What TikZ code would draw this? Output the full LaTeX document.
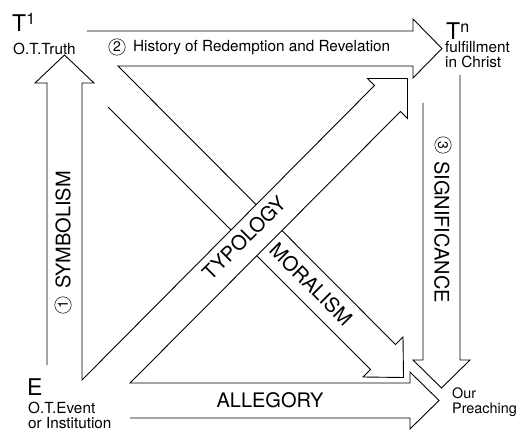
\documentclass[tikz,border=0pt]{standalone}
\usepackage{fontspec}
\setmainfont{TeX Gyre Heros}

\newcommand{\supnum}[1]{\raisebox{7pt}{\fontsize{16}{16}\selectfont #1}}

\tikzset{
  outline/.style={line width=0.9pt, line join=miter},
  lbl/.style={inner sep=0pt, font=\fontsize{15.3}{15}\selectfont},
  endlbl/.style={inner sep=0pt, font=\fontsize{14.4}{15}\selectfont},
  biglbl/.style={inner sep=0pt, font=\fontsize{20}{20}\selectfont},
  corner/.style={inner sep=0pt, font=\fontsize{23}{23}\selectfont},
  circnum/.style={circle, draw, line width=0.5pt, inner sep=0pt, minimum size=16.5pt, font=\fontsize{14}{14}\selectfont},
}

\begin{document}
\begin{tikzpicture}[x=1pt,y=-1pt]
  \useasboundingbox (0,0) rectangle (519,430);
  % history and moralism
  \draw [outline] (87,31) -- (413,31) -- (413,19) -- (442,48.5) -- (413,78) -- (413,66) -- (118,66)
     -- (395.5,344.5) -- (403,337) -- (403.5,377.5) -- (363,377) -- (370.5,369.5) -- (108,107);
  % typology lies over moralism
  \path [fill=white] (82,380) -- (374.5,85.5) -- (367.5,78.5) -- (407.5,78.5) -- (407.5,118.5)
     -- (400.5,111.5) -- (130,383) -- cycle;
  % symbolism, typology, allegory
  \draw [outline] (47,365) -- (47,83) -- (35,83) -- (64.5,55) -- (94,83) -- (82,83) -- (82,380)
     -- (374.5,85.5) -- (367.5,78.5) -- (407.5,78.5) -- (407.5,118.5) -- (400.5,111.5) -- (130,383)
     -- (410,383) -- (410,372) -- (439,400.5) -- (410,429) -- (410,418) -- (130,418);
  % significance
  \draw [outline] (423,103) -- (423,360) -- (413,360) -- (441.5,388) -- (470,360) -- (460,360) -- (460,75);

  \node [corner, anchor=base west] (t1) at (12,32) {T\supnum{1}};
  \node [lbl, anchor=base west] (ottruth) at (13,55) {O.T.Truth};
  \node [corner, anchor=base west] (tn) at (446,40) {T\supnum{n}};
  \node [lbl, anchor=base west] (fulfil) at (445,53) {fulfillment};
  \node [lbl, anchor=base west] (christ) at (445,68) {in Christ};
  \node [corner, anchor=base west] (e) at (27,395) {E};
  \node [lbl, anchor=base west] (otevent) at (28,413) {O.T.Event};
  \node [lbl, anchor=base west] (instit) at (28,428) {or Institution};
  \node [endlbl, anchor=base west] (our) at (452,398) {Our};
  \node [endlbl, anchor=base west] (preach) at (452,413) {Preaching};

  \node [circnum] (two) at (117,47) {2};
  \node [lbl, anchor=base west] (history) at (133,52) {History of Redemption and Revelation};
  \node [circnum, rotate=90] (one) at (63,305) {1};
  \node [biglbl, rotate=90] (symbol) at (63,230) {SYMBOLISM};
  \node [circnum, rotate=-90] (three) at (443,145) {3};
  \node [biglbl, rotate=-90] (signif) at (442,232) {SIGNIFICANCE};
  \node [biglbl, rotate=45] (typol) at (244,238) {TYPOLOGY};
  \node [biglbl, rotate=-45] (moral) at (311,284) {MORALISM};
  \node [biglbl] (alleg) at (270,400) {ALLEGORY};
\end{tikzpicture}
\end{document}
